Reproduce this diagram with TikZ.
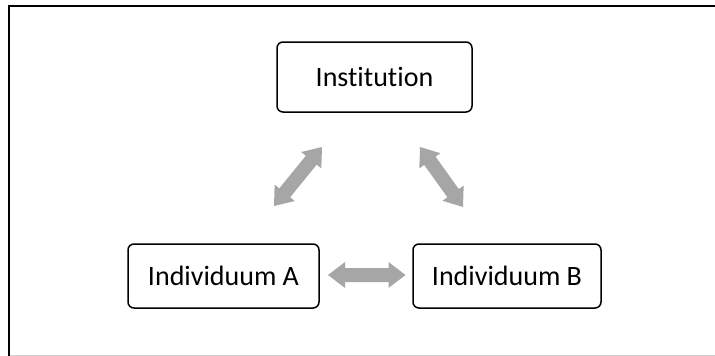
\documentclass[tikz,border=0pt]{standalone}
\usepackage{fontspec}
\setmainfont[Ligatures=NoCommon]{Carlito}
\usetikzlibrary{calc}
\definecolor{arrgray}{HTML}{A6A6A6}
\definecolor{framegray}{HTML}{D0D0D0}
\tikzset{
  box/.style={draw=black, line width=1.5pt, rounded corners=6pt, inner sep=0pt,
    font=\fontsize{28}{34}\selectfont},
  arrowfill/.style={fill=arrgray},
  framestyle/.style={line width=2pt, black},
}
\newcommand\dblarrow[2]{%
  \path let \p1=($(#2)-(#1)$), \n1={veclen(\x1,\y1)}, \n2={atan2(\y1,\x1)} in
    \pgfextra{\xdef\dalen{\n1}\xdef\daang{\n2}};
  \fill[arrowfill, shift={(#1)}, rotate=\daang]
    (0pt,0pt) -- (17pt,13pt) -- (17pt,7pt) -- (\dalen-17pt,7pt) -- (\dalen-17pt,13pt)
    -- (\dalen,0pt) -- (\dalen-17pt,-13pt) -- (\dalen-17pt,-7pt) -- (17pt,-7pt)
    -- (17pt,-13pt) -- cycle;
}
\begin{document}
\begin{tikzpicture}[x=1pt,y=-1pt]
\useasboundingbox (0,0) rectangle (715,356);
\draw[framestyle] (9,356) -- (9,6) -- (715,6);
\draw[framegray, line width=1pt] (10,355) -- (715,355);

\node[box, minimum width=195pt, minimum height=70pt] (inst) at (374.5,77) {Institution};
\node[box, minimum width=191pt, minimum height=64pt] (ia) at (223.5,276) {Individuum A};
\node[box, minimum width=188pt, minimum height=64pt] (ib) at (507,276) {Individuum B};

\coordinate (a1) at (274,206);
\coordinate (a2) at (322,147);
\coordinate (b1) at (420,147);
\coordinate (b2) at (463,207);
\coordinate (c1) at (328,275);
\coordinate (c2) at (405.5,275);
\dblarrow{a1}{a2}
\dblarrow{b1}{b2}
\dblarrow{c1}{c2}
\end{tikzpicture}
\end{document}
